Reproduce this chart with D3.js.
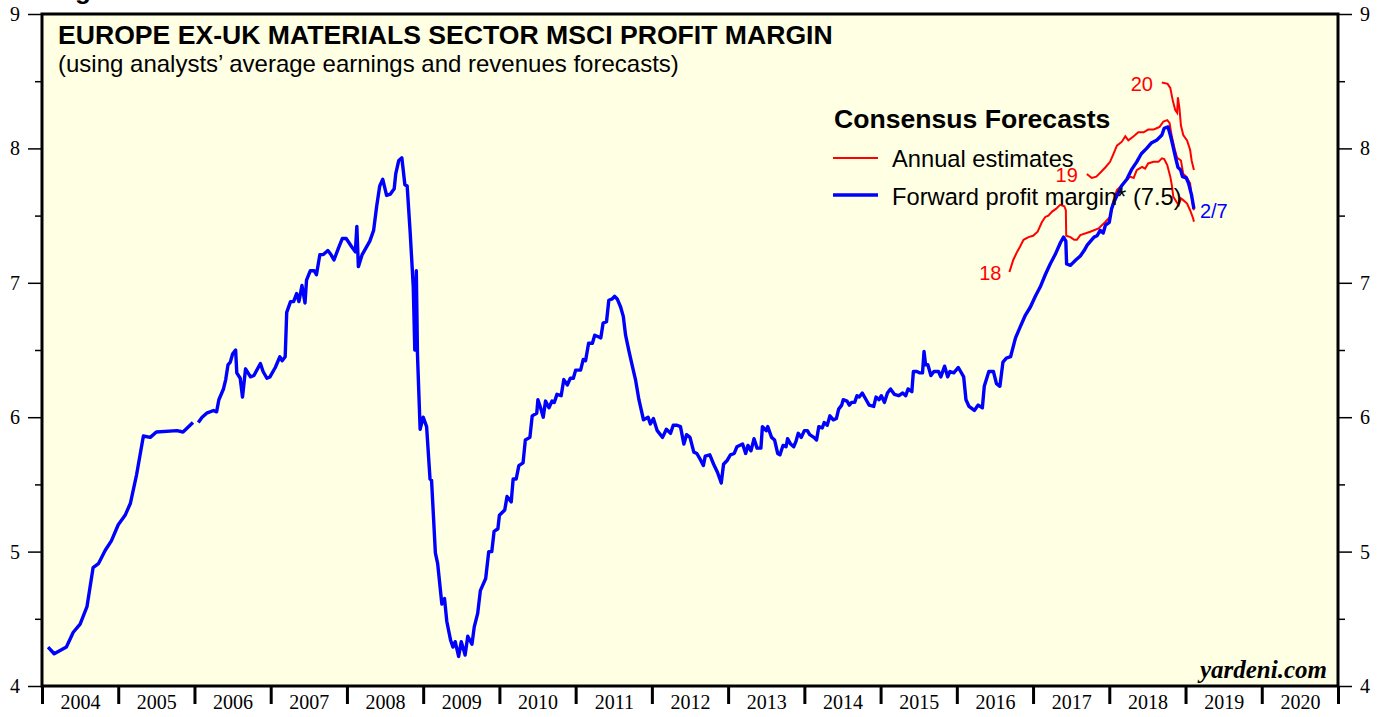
<!DOCTYPE html>
<meta charset="utf-8">

<!-- Load d3.js -->
<script src="https://d3js.org/d3.v7.min.js"></script>

<style>
body { margin: 0; background: #ffffff; }
.axis text { font-family: "Liberation Serif", "Times New Roman", serif; font-size: 20px; fill: #000; }
.axis path { display: none; }
.axis line { stroke: #000; }
</style>

<div id="my_dataviz"></div>

<script>

// forward profit margin (decimal year, %) -- null marks the gap in the series
var fwdMargin = [
  [2004.08,4.29],[2004.16,4.24],[2004.32,4.29],[2004.41,4.40],[2004.50,4.46],[2004.59,4.59],
  [2004.67,4.88],[2004.74,4.91],[2004.83,5.01],[2004.91,5.08],[2005.00,5.20],[2005.09,5.27],
  [2005.16,5.36],[2005.24,5.57],[2005.33,5.86],[2005.42,5.85],[2005.50,5.89],[2005.77,5.90],
  [2005.85,5.89],[2005.98,5.96],
  null,
  [2006.05,5.96],[2006.10,6.00],[2006.16,6.03],[2006.25,6.05],[2006.29,6.04],[2006.32,6.13],
  [2006.38,6.21],[2006.41,6.28],[2006.44,6.39],[2006.47,6.41],[2006.50,6.47],[2006.54,6.50],
  [2006.555,6.33],[2006.60,6.29],[2006.63,6.15],[2006.67,6.36],[2006.735,6.30],[2006.78,6.31],
  [2006.865,6.40],[2006.90,6.34],[2006.95,6.29],[2006.99,6.30],[2007.06,6.37],[2007.12,6.45],
  [2007.15,6.42],[2007.19,6.45],[2007.21,6.78],[2007.26,6.86],[2007.30,6.86],[2007.34,6.92],
  [2007.37,6.86],[2007.41,6.98],[2007.45,6.85],[2007.47,7.02],[2007.52,7.09],[2007.57,7.09],
  [2007.60,7.06],[2007.645,7.21],[2007.69,7.21],[2007.75,7.24],[2007.79,7.21],[2007.83,7.17],
  [2007.89,7.26],[2007.94,7.33],[2007.99,7.33],[2008.06,7.27],[2008.11,7.23],[2008.13,7.42],
  [2008.15,7.12],[2008.20,7.21],[2008.25,7.26],[2008.30,7.31],[2008.35,7.39],[2008.39,7.57],
  [2008.43,7.72],[2008.47,7.77],[2008.52,7.65],[2008.57,7.66],[2008.62,7.70],[2008.64,7.81],
  [2008.68,7.91],[2008.72,7.93],[2008.76,7.73],[2008.79,7.72],[2008.83,7.37],[2008.87,6.97],
  [2008.89,6.50],[2008.91,7.09],[2008.925,6.47],[2008.96,5.91],[2009.00,6.00],[2009.045,5.93],
  [2009.09,5.54],[2009.11,5.53],[2009.16,4.99],[2009.19,4.91],[2009.245,4.61],[2009.28,4.65],
  [2009.31,4.48],[2009.36,4.34],[2009.39,4.29],[2009.42,4.33],[2009.465,4.22],[2009.50,4.33],
  [2009.55,4.23],[2009.585,4.37],[2009.64,4.31],[2009.67,4.44],[2009.715,4.54],[2009.75,4.71],
  [2009.82,4.80],[2009.86,5.00],[2009.90,5.00],[2009.93,5.15],[2009.98,5.17],[2010.00,5.27],
  [2010.07,5.31],[2010.10,5.41],[2010.155,5.37],[2010.18,5.54],[2010.22,5.54],[2010.255,5.64],
  [2010.31,5.66],[2010.34,5.83],[2010.40,5.85],[2010.43,6.01],[2010.49,6.03],[2010.505,6.13],
  [2010.54,6.07],[2010.575,6.00],[2010.605,6.12],[2010.65,6.07],[2010.69,6.12],[2010.72,6.11],
  [2010.755,6.17],[2010.81,6.16],[2010.845,6.28],[2010.89,6.24],[2010.93,6.29],[2010.97,6.29],
  [2011.00,6.35],[2011.065,6.35],[2011.10,6.43],[2011.13,6.42],[2011.17,6.55],[2011.22,6.55],
  [2011.25,6.61],[2011.29,6.60],[2011.33,6.59],[2011.36,6.70],[2011.405,6.71],[2011.435,6.87],
  [2011.48,6.88],[2011.51,6.90],[2011.545,6.88],[2011.59,6.82],[2011.625,6.75],[2011.655,6.61],
  [2011.70,6.49],[2011.74,6.39],[2011.785,6.28],[2011.83,6.13],[2011.89,5.98],[2011.95,6.00],
  [2011.98,5.95],[2012.02,5.99],[2012.07,5.90],[2012.14,5.85],[2012.19,5.91],[2012.245,5.88],
  [2012.28,5.94],[2012.33,5.94],[2012.375,5.93],[2012.42,5.80],[2012.455,5.87],[2012.50,5.85],
  [2012.55,5.74],[2012.59,5.73],[2012.64,5.68],[2012.675,5.64],[2012.70,5.71],[2012.76,5.72],
  [2012.81,5.65],[2012.86,5.59],[2012.91,5.51],[2012.94,5.65],[2012.99,5.68],[2013.03,5.72],
  [2013.08,5.73],[2013.115,5.78],[2013.19,5.80],[2013.23,5.73],[2013.26,5.79],[2013.30,5.75],
  [2013.34,5.84],[2013.38,5.77],[2013.43,5.77],[2013.45,5.93],[2013.50,5.90],[2013.52,5.93],
  [2013.57,5.85],[2013.61,5.83],[2013.65,5.73],[2013.68,5.72],[2013.72,5.79],[2013.76,5.78],
  [2013.78,5.84],[2013.82,5.80],[2013.86,5.78],[2013.89,5.82],[2013.92,5.88],[2013.96,5.85],
  [2014.00,5.90],[2014.04,5.90],[2014.07,5.87],[2014.125,5.85],[2014.16,5.83],[2014.19,5.93],
  [2014.235,5.92],[2014.26,5.96],[2014.30,5.94],[2014.335,6.01],[2014.38,5.98],[2014.42,5.99],
  [2014.45,6.06],[2014.49,6.09],[2014.51,6.13],[2014.56,6.12],[2014.59,6.09],[2014.62,6.11],
  [2014.66,6.11],[2014.69,6.16],[2014.72,6.15],[2014.76,6.18],[2014.81,6.13],[2014.85,6.09],
  [2014.91,6.08],[2014.94,6.15],[2014.98,6.13],[2015.01,6.16],[2015.05,6.11],[2015.09,6.18],
  [2015.13,6.21],[2015.18,6.17],[2015.24,6.16],[2015.29,6.18],[2015.33,6.16],[2015.36,6.21],
  [2015.41,6.19],[2015.43,6.34],[2015.475,6.34],[2015.51,6.33],[2015.55,6.33],[2015.57,6.49],
  [2015.59,6.39],[2015.62,6.39],[2015.66,6.31],[2015.70,6.34],[2015.76,6.34],[2015.79,6.30],
  [2015.84,6.38],[2015.88,6.30],[2015.91,6.34],[2015.96,6.33],[2016.02,6.37],[2016.05,6.34],
  [2016.09,6.30],[2016.12,6.13],[2016.16,6.08],[2016.23,6.05],[2016.28,6.09],[2016.335,6.07],
  [2016.36,6.23],[2016.42,6.34],[2016.48,6.34],[2016.52,6.25],[2016.565,6.23],[2016.605,6.41],
  [2016.65,6.44],[2016.705,6.45],[2016.77,6.59],[2016.83,6.67],[2016.90,6.76],[2016.965,6.82],
  [2017.03,6.90],[2017.095,6.97],[2017.16,7.06],[2017.225,7.14],[2017.29,7.21],[2017.36,7.30],
  [2017.40,7.34],[2017.43,7.31],[2017.44,7.14],[2017.49,7.13],[2017.56,7.17],[2017.62,7.20],
  [2017.67,7.24],[2017.71,7.28],[2017.755,7.31],[2017.80,7.34],[2017.84,7.35],[2017.88,7.39],
  [2017.92,7.37],[2017.95,7.43],[2018.00,7.45],[2018.03,7.55],[2018.06,7.60],[2018.11,7.66],
  [2018.16,7.72],[2018.23,7.77],[2018.29,7.84],[2018.36,7.90],[2018.42,7.96],[2018.49,8.00],
  [2018.55,8.04],[2018.62,8.06],[2018.69,8.10],[2018.72,8.15],[2018.77,8.16],[2018.80,8.10],
  [2018.83,8.03],[2018.87,7.93],[2018.90,7.86],[2018.935,7.84],[2018.96,7.79],[2019.01,7.78],
  [2019.04,7.74],[2019.08,7.65],[2019.11,7.55]
];

// annual consensus estimates (decimal year, %)
var est2018 = [
  [2016.69,7.08],[2016.74,7.17],[2016.79,7.23],[2016.83,7.27],[2016.875,7.32],[2016.94,7.34],
  [2017.00,7.35],[2017.06,7.38],[2017.115,7.45],[2017.16,7.49],[2017.20,7.50],[2017.25,7.53],
  [2017.30,7.55],[2017.355,7.58],[2017.41,7.57],[2017.43,7.54],[2017.435,7.35],[2017.49,7.34],
  [2017.54,7.32],[2017.575,7.32],[2017.62,7.355],[2017.75,7.38],[2017.86,7.405],[2017.95,7.454],
  [2018.01,7.49],[2018.055,7.615],[2018.10,7.69],[2018.165,7.727],[2018.23,7.764],[2018.27,7.79],
  [2018.32,7.78],[2018.36,7.838],[2018.43,7.863],[2018.47,7.85],[2018.51,7.888],[2018.58,7.90],
  [2018.645,7.90],[2018.69,7.926],[2018.72,7.92],[2018.76,7.876],[2018.80,7.79],[2018.82,7.727],
  [2018.84,7.64],[2018.88,7.603],[2018.91,7.578],[2018.94,7.628],[2018.97,7.615],[2019.02,7.59],
  [2019.06,7.54],[2019.10,7.479],[2019.11,7.454]
];
var est2019 = [
  [2017.705,7.81],[2017.77,7.78],[2017.83,7.79],[2017.90,7.83],[2017.95,7.86],[2018.01,7.90],
  [2018.055,7.96],[2018.10,8.02],[2018.165,8.05],[2018.21,8.09],[2018.25,8.06],[2018.32,8.09],
  [2018.38,8.12],[2018.45,8.12],[2018.51,8.14],[2018.58,8.14],[2018.62,8.15],[2018.66,8.16],
  [2018.71,8.20],[2018.76,8.21],[2018.79,8.19],[2018.82,8.09],[2018.86,7.99],[2018.89,7.93],
  [2018.94,7.91],[2018.97,7.81],[2019.01,7.79],[2019.06,7.74],[2019.08,7.64],[2019.11,7.54]
];
var est2020 = [
  [2018.69,8.49],[2018.765,8.48],[2018.80,8.45],[2018.835,8.35],[2018.865,8.285],[2018.89,8.265],
  [2018.90,8.38],[2018.92,8.30],[2018.94,8.17],[2018.97,8.10],[2019.02,8.06],[2019.06,7.99],
  [2019.08,7.91],[2019.11,7.84]
];

var yearLabels = [2004,2005,2006,2007,2008,2009,2010,2011,2012,2013,2014,2015,2016,2017,2018,2019,2020];
var yTicks = [4,5,6,7,8,9];
var yMinorTicks = [4.5,5.5,6.5,7.5,8.5];

// set the dimensions and margins of the graph
var margin = {top: 14, right: 46, bottom: 31, left: 42},
    width = 1384 - margin.left - margin.right,
    height = 717 - margin.top - margin.bottom;

var svg = d3.select("#my_dataviz").append("svg")
    .attr("width", 1384)
    .attr("height", 717)
  .append("g")
    .attr("transform", "translate(" + margin.left + "," + margin.top + ")");

var x = d3.scaleLinear().domain([2004, 2021]).range([0, width]);
var y = d3.scaleLinear().domain([4, 9]).range([height, 0]);

// cut-off figure caption above the frame
svg.append("text")
    .attr("x", 10).attr("y", -15.5)
    .style("font-family", "'Liberation Sans', Arial, sans-serif")
    .style("font-weight", "bold").style("font-size", "26px")
    .text("Figure");

// plot background
svg.append("rect")
    .attr("width", width).attr("height", height)
    .style("fill", "#ffffe4");

// y axes, left and right, with minor ticks
svg.append("g").attr("class", "axis")
    .call(d3.axisLeft(y).tickValues(yTicks).tickSize(14).tickPadding(8).tickFormat(d3.format("d")));
svg.append("g").attr("class", "axis")
    .call(d3.axisLeft(y).tickValues(yMinorTicks).tickSize(7).tickFormat(""));
svg.append("g").attr("class", "axis")
    .attr("transform", "translate(" + width + ",0)")
    .call(d3.axisRight(y).tickValues(yTicks).tickSize(14).tickPadding(8).tickFormat(d3.format("d")));
svg.append("g").attr("class", "axis")
    .attr("transform", "translate(" + width + ",0)")
    .call(d3.axisRight(y).tickValues(yMinorTicks).tickSize(7).tickFormat(""));
svg.selectAll(".axis line").style("stroke-width", 1.5);

// x axis: ticks at year boundaries, labels centred inside each year
var xTickAxis = svg.append("g").attr("class", "axis")
    .attr("transform", "translate(0," + height + ")")
    .call(d3.axisBottom(x).tickValues(yearLabels.concat([2021])).tickSize(18).tickFormat(""));
xTickAxis.selectAll("line").style("stroke-width", 3);
svg.append("g").attr("class", "axis")
    .attr("transform", "translate(0," + height + ")")
    .call(d3.axisBottom(x).tickValues(yearLabels.map(function(d) { return d + 0.5; }))
      .tickSize(0).tickPadding(9).tickFormat(function(d) { return Math.floor(d); }));

// lines
var line = d3.line()
    .defined(function(d) { return d !== null; })
    .x(function(d) { return x(d[0]); })
    .y(function(d) { return y(d[1]); });

[est2018, est2019, est2020].forEach(function(s) {
  svg.append("path").datum(s)
      .attr("d", line)
      .style("fill", "none").style("stroke", "#ff0000").style("stroke-width", 2);
});

svg.append("path").datum(fwdMargin)
    .attr("d", line)
    .style("fill", "none").style("stroke", "#0000ff").style("stroke-width", 3.4)
    .style("stroke-linejoin", "round");

// frame
svg.append("rect")
    .attr("width", width).attr("height", height)
    .style("fill", "none").style("stroke", "#000").style("stroke-width", 3);

// titles
var sans = "'Liberation Sans', Arial, Helvetica, sans-serif";
svg.append("text")
    .attr("x", 16).attr("y", 30)
    .style("font-family", sans).style("font-weight", "bold").style("font-size", "26.6px")
    .text("EUROPE EX-UK MATERIALS SECTOR MSCI PROFIT MARGIN");
svg.append("text")
    .attr("x", 16).attr("y", 58)
    .style("font-family", sans).style("font-size", "24px")
    .text("(using analysts\u2019 average earnings and revenues forecasts)");

// legend
svg.append("text")
    .attr("x", 792).attr("y", 114)
    .style("font-family", sans).style("font-weight", "bold").style("font-size", "26.6px")
    .text("Consensus Forecasts");
svg.append("line")
    .attr("x1", 791).attr("x2", 836).attr("y1", 144).attr("y2", 144)
    .style("stroke", "#ff0000").style("stroke-width", 2);
svg.append("text")
    .attr("x", 850).attr("y", 153)
    .style("font-family", sans).style("font-size", "23.7px")
    .text("Annual estimates");
svg.append("line")
    .attr("x1", 791).attr("x2", 836).attr("y1", 181).attr("y2", 181)
    .style("stroke", "#0000ff").style("stroke-width", 3.4);
svg.append("text")
    .attr("x", 850).attr("y", 191)
    .style("font-family", sans).style("font-size", "23.7px")
    .text("Forward profit margin* (7.5)");

// series end labels
function endLabel(series, txt, color, dx, dy, anchor) {
  var p = series[anchor === "end" ? 0 : series.length - 1];
  svg.append("text")
      .attr("x", x(p[0]) + dx).attr("y", y(p[1]) + dy)
      .attr("text-anchor", anchor)
      .style("font-family", sans).style("font-size", "20px").style("fill", color)
      .text(txt);
}
endLabel(est2018, "18", "#ff0000", -8, 8, "end");
endLabel(est2019, "19", "#ff0000", -9, 8, "end");
endLabel(est2020, "20", "#ff0000", -9, 8, "end");
endLabel(fwdMargin, "2/7", "#0000ff", 6, 9, "start");

// source
svg.append("text")
    .attr("x", width - 11).attr("y", height - 8)
    .attr("text-anchor", "end")
    .style("font-family", "'Liberation Serif', 'Times New Roman', serif")
    .style("font-weight", "bold").style("font-style", "italic").style("font-size", "25px")
    .text("yardeni.com");

</script>
